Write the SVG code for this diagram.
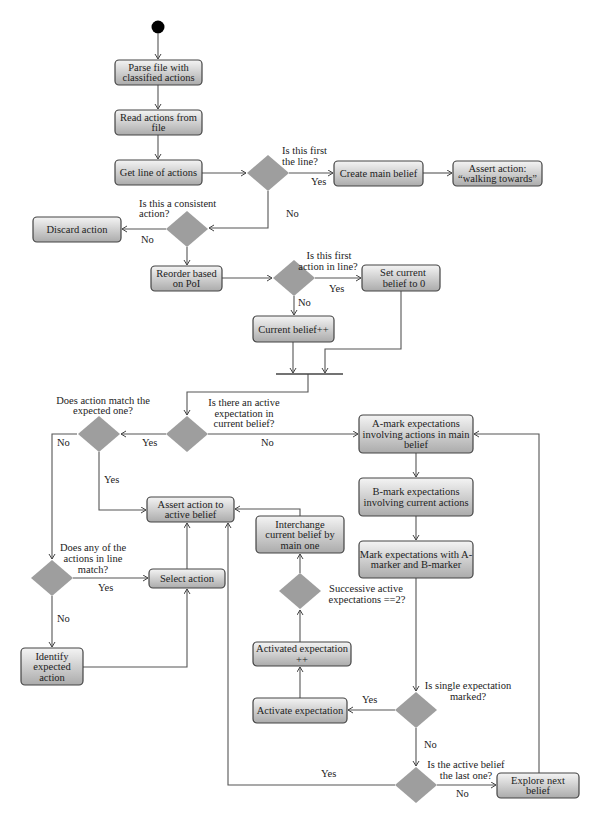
<svg xmlns="http://www.w3.org/2000/svg" width="600" height="825" viewBox="0 0 600 825">
<defs>
<linearGradient id="g" x1="0" y1="0" x2="0" y2="1">
<stop offset="0" stop-color="#f4f4f4"/>
<stop offset="1" stop-color="#ababab"/>
</linearGradient>
<marker id="a" markerWidth="8" markerHeight="8" refX="6" refY="3.5" orient="auto" markerUnits="userSpaceOnUse">
<path d="M1,0.5 L6,3.5 L1,6.5" fill="none" stroke="#444" stroke-width="1"/>
</marker>
</defs>
<style>
rect.b{fill:url(#g);stroke:#444;stroke-width:1.2}
polygon.d{fill:#9e9e9e;stroke:none}
text{font-family:"Liberation Serif","Times New Roman",serif;font-size:10.5px;fill:#222}
.c{text-anchor:middle}
#connectors path{fill:none;stroke:#555;stroke-width:1.1;marker-end:url(#a)}
#connectors path.n{marker-end:none}
</style>
<rect width="600" height="825" fill="#fff"/>

<g id="connectors">
<path d="M158,33.5 V59"/>
<path d="M158,85 V109"/>
<path d="M158,135 V159"/>
<path d="M202,173 H246"/>
<path d="M289,173 H333"/>
<path d="M423,173 H452"/>
<path d="M268,191 V228 H209"/>
<path d="M166,229 H122"/>
<path d="M187,247 V265"/>
<path d="M222,278 H272"/>
<path d="M315,278 H361"/>
<path d="M294,296 V315"/>
<path d="M293,342 V373"/>
<path d="M401,291 V349 H325 V373"/>
<path d="M308,374 V392 H187 V415"/>
<path d="M166,434 H121"/>
<path d="M208,434 H358"/>
<path d="M77,434 H52 V559"/>
<path d="M99,452 V510 H146"/>
<path d="M73,578 H148"/>
<path d="M52,596 V647"/>
<path d="M83,667 H187 V589"/>
<path d="M187,569 V523"/>
<path d="M395,785 H228 V523"/>
<path d="M300,516 V509 H235"/>
<path d="M300,573 V554"/>
<path d="M300,642 V610"/>
<path d="M300,698 V667"/>
<path d="M395,710 H348"/>
<path d="M416,578 V691"/>
<path d="M416,728 V766"/>
<path d="M437,785 H496"/>
<path d="M539,773 V434 H474"/>
<path d="M416,453 V477"/>
<path d="M416,516 V540"/>
<path class="n" d="M276,374 H343" style="stroke:#444;stroke-width:1.5"/>
</g>

<g id="start"><circle cx="158" cy="27" r="6.5" fill="#000"/></g>

<g id="parse"><rect class="b" x="115" y="60" width="87" height="25" rx="4"/>
<text class="c" x="158.5" y="70.75">Parse file with</text><text class="c" x="158.5" y="81.25">classified actions</text></g>

<g id="read"><rect class="b" x="115" y="110" width="87" height="25" rx="4"/>
<text class="c" x="158.5" y="120.75">Read actions from</text><text class="c" x="158.5" y="131.25">file</text></g>

<g id="getline"><rect class="b" x="115" y="160" width="87" height="25" rx="4"/>
<text class="c" x="158.5" y="176">Get line of actions</text></g>

<g id="d-first"><polygon class="d" points="268,155 289,173 268,191 247,173"/>
<text x="282" y="154">Is this first</text><text x="282" y="165">the line?</text>
<text x="311" y="185">Yes</text><text x="286" y="217">No</text></g>

<g id="createmain"><rect class="b" x="334" y="161" width="89" height="25" rx="4"/>
<text class="c" x="378.5" y="177">Create main belief</text></g>

<g id="assertwalk"><rect class="b" x="453" y="161" width="89" height="25" rx="4"/>
<text class="c" x="497.5" y="171.75">Assert action:</text><text class="c" x="497.5" y="182.25">“walking towards”</text></g>

<g id="d-consistent"><polygon class="d" points="187,211 208,229 187,247 166,229"/>
<text x="139" y="207">Is this a consistent</text><text x="139" y="217">action?</text>
<text x="141" y="243">No</text></g>

<g id="discard"><rect class="b" x="33" y="217" width="88" height="25" rx="4"/>
<text class="c" x="77" y="233">Discard action</text></g>

<g id="reorder"><rect class="b" x="151" y="266" width="71" height="25" rx="4"/>
<text class="c" x="186.5" y="276.75">Reorder based</text><text class="c" x="186.5" y="287.25">on PoI</text></g>

<g id="d-firstaction"><polygon class="d" points="294,260 315,278 294,296 273,278"/>
<text class="c" x="329" y="259">Is this first</text><text class="c" x="328" y="270">action in line?</text>
<text x="329" y="292">Yes</text><text x="298" y="306">No</text></g>

<g id="setcurrent"><rect class="b" x="362" y="265" width="78" height="26" rx="4"/>
<text class="c" x="403" y="276.25">Set current</text><text class="c" x="404" y="286.75">belief to 0</text></g>

<g id="currentpp"><rect class="b" x="253" y="316" width="81" height="26" rx="4"/>
<text class="c" x="293.5" y="332.5">Current belief++</text></g>

<g id="d-active"><polygon class="d" points="187,416 208,434 187,452 166,434"/>
<text class="c" x="244" y="405.5">Is there an active</text><text class="c" x="244" y="416.5">expectation in</text><text class="c" x="244" y="427">current belief?</text>
<text x="142" y="446">Yes</text><text x="261" y="446">No</text></g>

<g id="d-match"><polygon class="d" points="99,416 120,434 99,452 78,434"/>
<text class="c" x="103" y="404">Does action match the</text><text class="c" x="103" y="414">expected one?</text>
<text x="57" y="446">No</text><text x="104" y="483">Yes</text></g>

<g id="amark"><rect class="b" x="359" y="415" width="114" height="38" rx="4"/>
<text class="c" x="416" y="427">A-mark expectations</text><text class="c" x="416" y="437.5">involving actions in main</text><text class="c" x="416" y="448">belief</text></g>

<g id="bmark"><rect class="b" x="359" y="478" width="114" height="38" rx="4"/>
<text class="c" x="416" y="495.25">B-mark expectations</text><text class="c" x="416" y="505.75">involving current actions</text></g>

<g id="markab"><rect class="b" x="359" y="541" width="114" height="37" rx="4"/>
<text class="c" x="416" y="557.75">Mark expectations with A-</text><text class="c" x="416" y="568.25">marker and B-marker</text></g>

<g id="assertactive"><rect class="b" x="147" y="497" width="87" height="25" rx="4"/>
<text class="c" x="190.5" y="507.75">Assert action to</text><text class="c" x="190.5" y="518.25">active belief</text></g>

<g id="interchange"><rect class="b" x="256" y="516" width="88" height="37" rx="4"/>
<text class="c" x="300" y="527.5">Interchange</text><text class="c" x="300" y="538">current belief by</text><text class="c" x="300" y="548.5">main one</text></g>

<g id="d-anymatch"><polygon class="d" points="52,560 73,578 52,596 31,578"/>
<text class="c" x="93" y="550.5">Does any of the</text><text class="c" x="93" y="561.5">actions in line</text><text class="c" x="93" y="572.5">match?</text>
<text x="98" y="591">Yes</text><text x="57" y="622">No</text></g>

<g id="select"><rect class="b" x="149" y="569" width="76" height="19" rx="4"/>
<text class="c" x="187" y="582">Select action</text></g>

<g id="identify"><rect class="b" x="21" y="648" width="62" height="37" rx="4"/>
<text class="c" x="52" y="659.5">Identify</text><text class="c" x="52" y="670">expected</text><text class="c" x="52" y="680.5">action</text></g>

<g id="d-successive"><polygon class="d" points="300,573 321,591 300,609 279,591"/>
<text class="c" x="366" y="592">Successive active</text><text class="c" x="367" y="603">expectations ==2?</text></g>

<g id="activated"><rect class="b" x="253" y="642" width="98" height="24" rx="4"/>
<text class="c" x="302" y="652.25">Activated expectation</text><text class="c" x="302" y="662.75">++</text></g>

<g id="activate"><rect class="b" x="253" y="698" width="94" height="25" rx="4"/>
<text class="c" x="300" y="714">Activate expectation</text></g>

<g id="d-single"><polygon class="d" points="416,692 437,710 416,728 395,710"/>
<text class="c" x="468" y="688.5">Is single expectation</text><text class="c" x="468" y="699.5">marked?</text>
<text x="362" y="703">Yes</text><text x="424" y="748">No</text></g>

<g id="d-last"><polygon class="d" points="416,767 437,785 416,803 395,785"/>
<text class="c" x="466" y="767.5">Is the active belief</text><text class="c" x="466" y="779">the last one?</text>
<text x="321" y="777">Yes</text><text x="456" y="797">No</text></g>

<g id="explore"><rect class="b" x="497" y="773" width="82" height="25" rx="4"/>
<text class="c" x="538" y="783.75">Explore next</text><text class="c" x="538" y="794.25">belief</text></g>
</svg>
